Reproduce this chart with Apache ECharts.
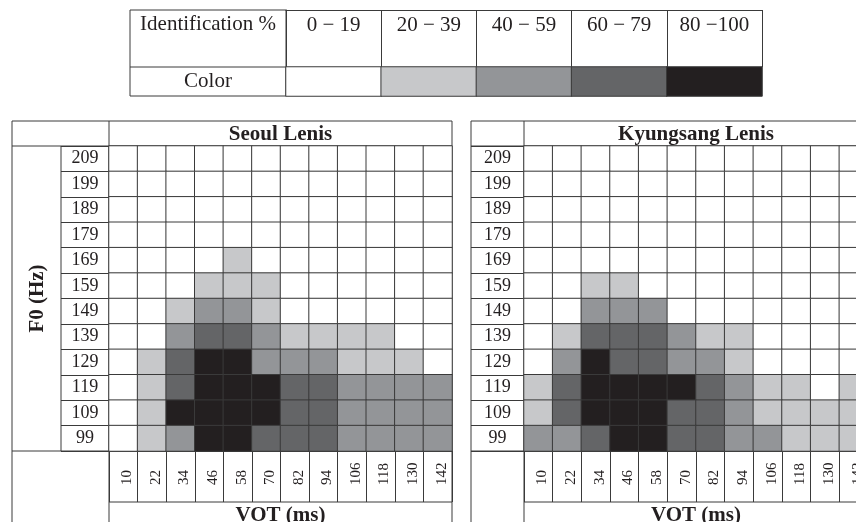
<!DOCTYPE html>
<html>
<head>
<meta charset="utf-8">
<script src="https://cdn.jsdelivr.net/npm/echarts@6/dist/echarts.min.js"></script>
<style>html,body{margin:0;padding:0;background:#fff;}#c{width:856px;height:522px;}</style>
</head>
<body>
<div id="c"></div>
<script>
// ---- data ----
const vot = ['10','22','34','46','58','70','82','94','106','118','130','142'];
const f0 = ['209','199','189','179','169','159','149','139','129','119','109','99']; // top to bottom
const legendRanges = ['0 \u2212 19','20 \u2212 39','40 \u2212 59','60 \u2212 79','80 \u2212100'];
const legendLevels = [0,1,2,3,4];
// identification level per cell (0:0-19, 1:20-39, 2:40-59, 3:60-79, 4:80-100), rows follow f0
const seoulLenis = [
  [0,0,0,0,0,0,0,0,0,0,0,0],
  [0,0,0,0,0,0,0,0,0,0,0,0],
  [0,0,0,0,0,0,0,0,0,0,0,0],
  [0,0,0,0,0,0,0,0,0,0,0,0],
  [0,0,0,0,1,0,0,0,0,0,0,0],
  [0,0,0,1,1,1,0,0,0,0,0,0],
  [0,0,1,2,2,1,0,0,0,0,0,0],
  [0,0,2,3,3,2,1,1,1,1,0,0],
  [0,1,3,4,4,2,2,2,1,1,1,0],
  [0,1,3,4,4,4,3,3,2,2,2,2],
  [0,1,4,4,4,4,3,3,2,2,2,2],
  [0,1,2,4,4,3,3,3,2,2,2,2]
];
const kyungsangLenis = [
  [0,0,0,0,0,0,0,0,0,0,0,0],
  [0,0,0,0,0,0,0,0,0,0,0,0],
  [0,0,0,0,0,0,0,0,0,0,0,0],
  [0,0,0,0,0,0,0,0,0,0,0,0],
  [0,0,0,0,0,0,0,0,0,0,0,0],
  [0,0,1,1,0,0,0,0,0,0,0,0],
  [0,0,2,2,2,0,0,0,0,0,0,0],
  [0,1,3,3,3,2,1,1,0,0,0,0],
  [0,2,4,3,3,2,2,1,0,0,0,0],
  [1,3,4,4,4,4,3,2,1,1,0,1],
  [1,3,4,4,4,3,3,2,1,1,1,1],
  [2,2,3,4,4,3,3,2,2,1,1,1]
];
const levelColors = ['#ffffff','#c7c8ca','#939598','#646567','#231f20'];

// ---- build ----
const FONT = "'Liberation Serif','DejaVu Serif',serif";
const INK = '#231f20';
const LINE = '#3a3a3a';
function cells(m){ const out=[]; m.forEach((row,r)=>row.forEach((v,c)=>out.push([c,r,v]))); return out; }

function panelX(gi){
  return {type:'category', gridIndex:gi, data:vot, position:'bottom',
    axisLine:{show:true, lineStyle:{color:LINE,width:1}},
    axisTick:{show:true, interval:0, length:51, lineStyle:{color:LINE,width:1}},
    axisLabel:{interval:0, rotate:90, align:'left', verticalAlign:'middle', margin:34,
      formatter: v => '{a|' + v + '}',
      rich:{a:{fontFamily:FONT, fontSize:15, color:INK, padding:[8,0,0,0]}},
      fontFamily:FONT, fontSize:15, color:INK},
    splitLine:{show:false},
    name:'VOT (ms)', nameLocation:'middle', nameGap:54,
    nameTextStyle:{fontFamily:FONT, fontSize:21, fontWeight:'bold', color:INK}};
}
function panelY(gi, labelMargin, tickLen, name){
  const a = {type:'category', gridIndex:gi, data:f0, inverse:true,
    axisLine:{show:true, lineStyle:{color:LINE,width:1}},
    axisTick:{show:true, interval:0, length:tickLen, lineStyle:{color:LINE,width:1}},
    axisLabel:{interval:0, align:'center', margin:labelMargin, fontFamily:FONT, fontSize:18, color:INK},
    splitLine:{show:false}};
  if(name){ Object.assign(a,{name:name, nameLocation:'middle', nameGap:61, nameRotate:90,
    nameTextStyle:{fontFamily:FONT, fontSize:21, fontWeight:'bold', color:INK}}); }
  return a;
}
const cellStyle = {borderColor:LINE, borderWidth:1};

const option = {
  backgroundColor:'#fff',
  animation:false,
  title:[
    {text:'Seoul Lenis', left:280.5, top:124, textAlign:'center', padding:0,
     textStyle:{fontFamily:FONT, fontSize:21, fontWeight:'bold', color:INK}},
    {text:'Kyungsang Lenis', left:696, top:124, textAlign:'center', padding:0,
     textStyle:{fontFamily:FONT, fontSize:21, fontWeight:'bold', color:INK}}
  ],
  grid:[
    {left:109, top:146, width:343, height:305, outerBoundsMode:'none', containLabel:false},
    {left:524, top:146, width:344, height:305, outerBoundsMode:'none', containLabel:false},
    {left:286, top:10, width:476, height:57, outerBoundsMode:'none', containLabel:false},
    {left:286, top:67, width:476, height:29, outerBoundsMode:'none', containLabel:false}
  ],
  xAxis:[
    panelX(0), panelX(1),
    {type:'category', gridIndex:2, data:legendRanges, position:'top',
     axisLine:{show:true, lineStyle:{color:LINE,width:1}},
     axisTick:{show:true, inside:true, interval:0, length:57, lineStyle:{color:LINE,width:1}},
     axisLabel:{inside:true, interval:0, margin:5, fontFamily:FONT, fontSize:21, color:INK}},
    {type:'category', gridIndex:3, data:legendRanges, show:false}
  ],
  yAxis:[
    panelY(0, 24, 48, 'F0 (Hz)'),
    panelY(1, 26.5, 53, null),
    {type:'category', gridIndex:2, data:['Identification %'],
     axisLine:{show:true, lineStyle:{color:LINE,width:1}}, axisTick:{show:false},
     axisLabel:{align:'center', margin:78,
       formatter: v => '{a|' + v + '}',
       rich:{a:{fontFamily:FONT, fontSize:21, color:INK, padding:[0,0,28,0]}},
       fontFamily:FONT, fontSize:21, color:INK}},
    {type:'category', gridIndex:3, data:['Color'],
     axisLine:{show:false}, axisTick:{show:false},
     axisLabel:{align:'center', margin:78, fontFamily:FONT, fontSize:21, color:INK}}
  ],
  visualMap:{type:'piecewise', show:false, dimension:2, seriesIndex:[0,1,2],
    pieces: levelColors.map((c,i)=>({value:i, color:c}))},
  series:[
    {type:'heatmap', xAxisIndex:0, yAxisIndex:0, data:cells(seoulLenis), itemStyle:cellStyle, emphasis:{disabled:true}},
    {type:'heatmap', xAxisIndex:1, yAxisIndex:1, data:cells(kyungsangLenis), itemStyle:cellStyle, emphasis:{disabled:true}},
    {type:'heatmap', xAxisIndex:3, yAxisIndex:3, data:legendLevels.map((v,i)=>[i,0,v]), itemStyle:cellStyle, emphasis:{disabled:true}}
  ],
  graphic:[
    // legend first column frame
    {type:'rect', shape:{x:130, y:10, width:156, height:86}, style:{fill:null, stroke:LINE, lineWidth:1}, silent:true},
    {type:'line', shape:{x1:130, y1:67, x2:286, y2:67}, style:{stroke:LINE, lineWidth:1}, silent:true},
    // left panel frame
    {type:'rect', shape:{x:12, y:121, width:440, height:430}, style:{fill:null, stroke:LINE, lineWidth:1}, silent:true},
    {type:'line', shape:{x1:12, y1:146, x2:452, y2:146}, style:{stroke:LINE, lineWidth:1}, silent:true},
    {type:'line', shape:{x1:109, y1:121, x2:109, y2:560}, style:{stroke:LINE, lineWidth:1}, silent:true},
    {type:'line', shape:{x1:61, y1:146, x2:61, y2:451}, style:{stroke:LINE, lineWidth:1}, silent:true},
    {type:'line', shape:{x1:12, y1:451, x2:109, y2:451}, style:{stroke:LINE, lineWidth:1}, silent:true},
    {type:'line', shape:{x1:109, y1:502, x2:452, y2:502}, style:{stroke:LINE, lineWidth:1}, silent:true},
    // right panel frame
    {type:'rect', shape:{x:471, y:121, width:430, height:430}, style:{fill:null, stroke:LINE, lineWidth:1}, silent:true},
    {type:'line', shape:{x1:471, y1:146, x2:870, y2:146}, style:{stroke:LINE, lineWidth:1}, silent:true},
    {type:'line', shape:{x1:524, y1:121, x2:524, y2:560}, style:{stroke:LINE, lineWidth:1}, silent:true},
    {type:'line', shape:{x1:471, y1:451, x2:524, y2:451}, style:{stroke:LINE, lineWidth:1}, silent:true},
    {type:'line', shape:{x1:524, y1:502, x2:870, y2:502}, style:{stroke:LINE, lineWidth:1}, silent:true}
  ]
};
echarts.init(document.getElementById('c'), null, {renderer:'canvas'}).setOption(option);
</script>
</body>
</html>
